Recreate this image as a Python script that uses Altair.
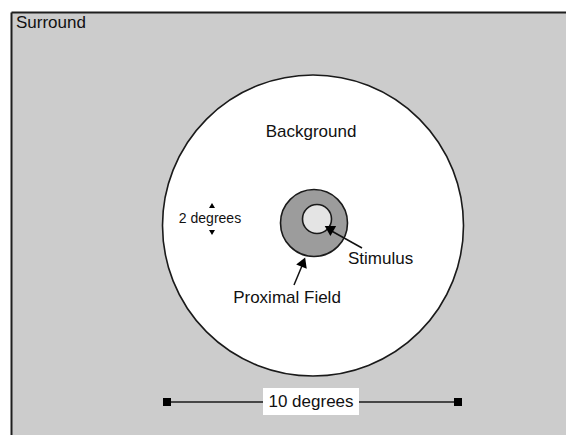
import math
import altair as alt
import pandas as pd

# ---- diagram values (image pixel coordinates, y downward) ----
W, H = 558, 427          # svg size
OX, OY = 8, 8            # page margin offset

# surround rectangle (fill) and its visible left / top border
surround_x = [11.5]
surround_x2 = [570]
surround_y = [12.5]
surround_y2 = [440]
border_x = [11.5, 11.5]
border_x2 = [11.5, 570]
border_y = [12.5, 12.5]
border_y2 = [440, 12.5]

# circles: background, proximal field, stimulus
circle_names = ["Background", "Proximal Field", "Stimulus"]
circle_cx = [313, 314, 317]
circle_cy = [225.5, 223, 219]
circle_r = [150.5, 33.5, 14.5]
circle_fill = ["#ffffff", "#9c9c9c", "#e4e4e4"]

# scale bar
bar_x = [167]
bar_x2 = [458]
bar_y = [402]
end_x = [167, 458]
end_y = [402, 402]
box_x = [263]
box_x2 = [359]
box_y = [388]
box_y2 = [415]

# arrows (tail -> tip)
arrow_x = [362, 294]
arrow_y = [248, 285]
arrow_x2 = [328, 304]
arrow_y2 = [229, 261]
arrowhead_x = [329.0, 303.3]
arrowhead_y = [228.5, 262.0]
arrowhead_angle = [300, 22]

# "2 degrees" marker arrows
tick_x = [212, 212]
tick_y = [205.5, 232.5]
tick_angle = [0, 180]

# labels
label_text = ["Surround", "Background", "Stimulus", "Proximal Field", "10 degrees"]
label_x = [16, 311, 348, 287, 311]
label_y = [28, 137, 264, 303, 407]
label_align = ["left", "center", "left", "center", "center"]
small_text = ["2 degrees"]
small_x = [210]
small_y = [223]

xs = alt.Scale(domain=[OX, OX + W], range=[0, W], nice=False, zero=False)
ys = alt.Scale(domain=[OY + H, OY], nice=False, zero=False)

def X(f):
    return alt.X(f, type="quantitative", scale=xs, axis=None)

def Y(f):
    return alt.Y(f, type="quantitative", scale=ys, axis=None)

surround = alt.Chart(pd.DataFrame({"x": surround_x, "x2": surround_x2, "y": surround_y, "y2": surround_y2})).mark_rect(
    fill="#cccccc", clip=True
).encode(x=X("x"), x2="x2", y=Y("y"), y2="y2")

border = alt.Chart(pd.DataFrame({"x": border_x, "x2": border_x2, "y": border_y, "y2": border_y2})).mark_rule(
    color="#1e1e1e", strokeWidth=2, clip=True
).encode(x=X("x"), x2="x2", y=Y("y"), y2="y2")

cdf = pd.DataFrame({
    "name": circle_names, "cx": circle_cx, "cy": circle_cy,
    "area": [(2 * r) ** 2 for r in circle_r], "fill": circle_fill,
    "z": list(range(len(circle_names))),
})
circles = alt.Chart(cdf).mark_point(shape="circle", filled=True, stroke="#1a1a1a", strokeWidth=1.6, opacity=1).encode(
    x=X("cx"), y=Y("cy"),
    size=alt.Size("area:Q", scale=None),
    fill=alt.Fill("fill:N", scale=None),
    order=alt.Order("z:Q"),
)

bar = alt.Chart(pd.DataFrame({"x": bar_x, "x2": bar_x2, "y": bar_y})).mark_rule(color="#1a1a1a", strokeWidth=1.3).encode(
    x=X("x"), x2="x2", y=Y("y"))

ends = alt.Chart(pd.DataFrame({"x": end_x, "y": end_y})).mark_square(color="#000000", size=64, opacity=1).encode(
    x=X("x"), y=Y("y"))

box = alt.Chart(pd.DataFrame({"x": box_x, "x2": box_x2, "y": box_y, "y2": box_y2})).mark_rect(fill="#ffffff").encode(
    x=X("x"), x2="x2", y=Y("y"), y2="y2")

shafts = alt.Chart(pd.DataFrame({"x": arrow_x, "y": arrow_y, "x2": arrow_x2, "y2": arrow_y2})).mark_rule(
    color="#111111", strokeWidth=1.5).encode(x=X("x"), y=Y("y"), x2="x2", y2="y2")

heads = alt.Chart(pd.DataFrame({"x": arrowhead_x, "y": arrowhead_y, "a": arrowhead_angle})).mark_point(
    shape="triangle-up", filled=True, color="#000000", size=130, opacity=1).encode(
    x=X("x"), y=Y("y"), angle=alt.Angle("a:Q", scale=None))

ticks = alt.Chart(pd.DataFrame({"x": tick_x, "y": tick_y, "a": tick_angle})).mark_point(
    shape="triangle-up", filled=True, color="#000000", size=36, opacity=1).encode(
    x=X("x"), y=Y("y"), angle=alt.Angle("a:Q", scale=None))

ldf = pd.DataFrame({"t": label_text, "x": label_x, "y": label_y, "al": label_align})
labels_left = alt.Chart(ldf[ldf.al == "left"]).mark_text(
    align="left", baseline="alphabetic", font="Liberation Sans", fontSize=17, color="#111111").encode(
    x=X("x"), y=Y("y"), text="t:N")
labels_center = alt.Chart(ldf[ldf.al == "center"]).mark_text(
    align="center", baseline="alphabetic", font="Liberation Sans", fontSize=17, color="#111111").encode(
    x=X("x"), y=Y("y"), text="t:N")
small = alt.Chart(pd.DataFrame({"t": small_text, "x": small_x, "y": small_y})).mark_text(
    align="center", baseline="alphabetic", font="Liberation Sans", fontSize=14, color="#111111").encode(
    x=X("x"), y=Y("y"), text="t:N")

chart = alt.layer(surround, border, circles, bar, box, ends, shafts, heads, ticks, labels_left, labels_center, small).properties(
    width=W, height=H, padding=0, autosize=alt.AutoSizeParams(type="none"), background="#ffffff"
).configure_view(strokeWidth=0)

chart.save("out.html", embed_options={"renderer": "svg", "actions": False})
